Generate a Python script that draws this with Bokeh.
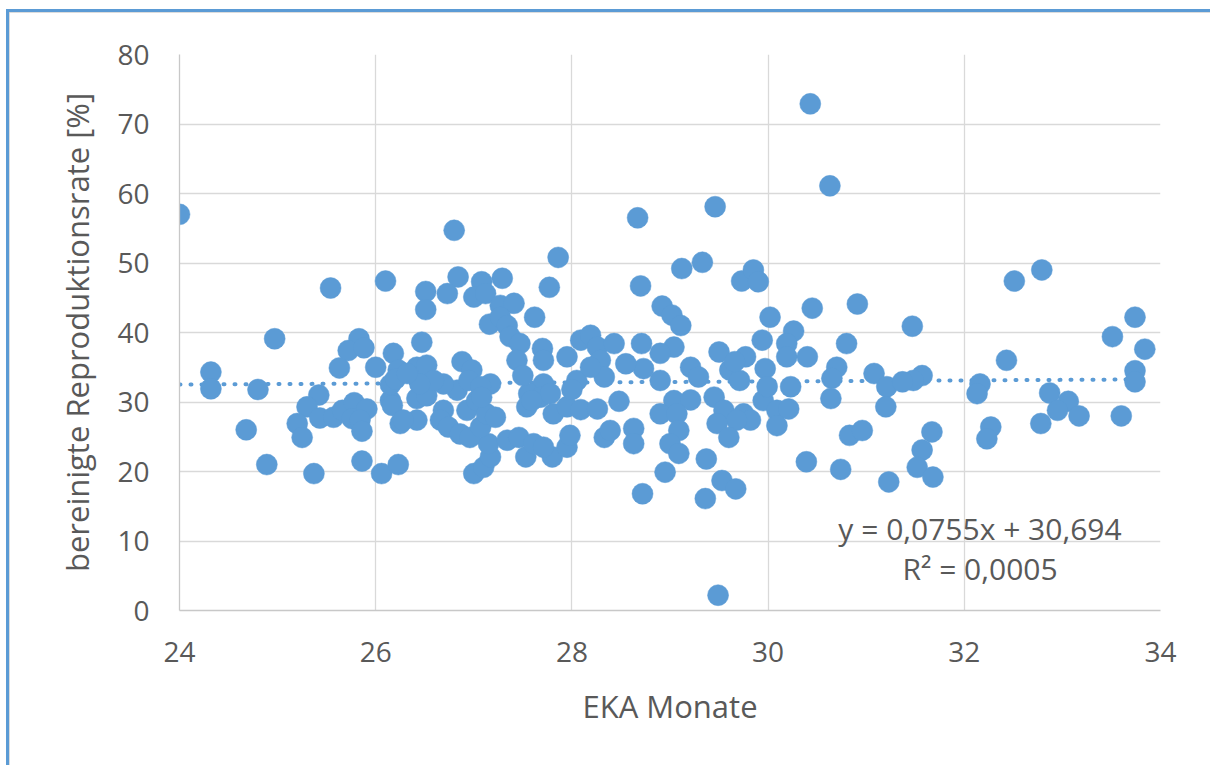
from bokeh.plotting import figure
from bokeh.models import Label, FixedTicker
from bokeh.embed import file_html
from bokeh.resources import INLINE

# ---- data ----
eka_months = [
    24.00, 25.54, 26.10, 24.97, 25.83, 25.72, 25.88, 25.63, 24.32, 24.32,
    24.80, 26.00, 26.18, 26.23, 26.15, 26.42, 26.42, 26.25, 26.42, 25.42,
    25.30, 25.20, 25.25, 25.43, 25.57, 25.66, 25.78, 25.91, 25.76, 25.84,
    25.86, 24.68, 24.89, 25.37, 25.86, 26.06, 26.23, 26.15, 26.20, 26.17,
    26.80, 27.86, 28.67, 28.70, 28.92, 26.84, 26.51, 26.51, 26.73, 27.08,
    27.29, 27.00, 27.12, 27.77, 27.27, 27.41, 27.16, 27.27, 27.34, 27.37,
    27.47, 27.44, 27.62, 26.47, 26.52, 26.88, 26.98, 27.17, 27.70, 27.71,
    27.95, 28.09, 28.19, 28.26, 28.29, 28.33, 28.43, 28.71, 28.73, 28.05,
    28.19, 27.71, 27.56, 27.54, 27.68, 27.78, 27.81, 27.95, 28.09, 28.26,
    28.48, 28.33, 28.39, 28.63, 28.63, 28.72, 27.00, 27.10, 27.17, 27.15,
    27.34, 27.53, 27.46, 27.61, 27.80, 27.71, 27.95, 27.98, 26.28, 26.52,
    26.69, 26.66, 26.74, 26.86, 26.96, 27.07, 26.93, 27.03, 27.13, 27.22,
    26.83, 26.69, 26.59, 26.45, 26.32, 26.95, 27.07, 27.08, 27.59, 30.63,
    30.43, 29.46, 29.12, 29.33, 29.73, 29.85, 29.90, 29.02, 29.11, 30.02,
    30.45, 30.91, 30.26, 30.19, 29.94, 30.80, 29.04, 28.90, 29.50, 29.77,
    30.19, 30.40, 30.70, 30.65, 31.08, 31.21, 31.20, 30.64, 30.23, 29.97,
    29.21, 29.29, 29.61, 29.71, 28.90, 29.04, 29.21, 28.90, 29.07, 29.45,
    29.55, 29.75, 29.82, 29.68, 29.48, 29.60, 29.95, 30.09, 30.21, 30.09,
    29.99, 29.09, 29.00, 29.09, 28.95, 29.37, 29.53, 29.67, 29.36, 30.39,
    30.74, 30.83, 30.96, 31.23, 29.49, 32.51, 32.79, 31.47, 32.43, 33.51,
    33.74, 33.84, 33.74, 33.74, 33.60, 32.16, 32.13, 32.87, 33.06, 32.95,
    33.17, 32.78, 32.27, 32.23, 31.57, 31.48, 31.37, 31.67, 31.57, 31.52,
    31.68, 29.66, 28.55, 27.50, 28.00,
]
repro_rate = [
    57.0, 46.4, 47.4, 39.1, 39.1, 37.4, 37.8, 34.9, 34.3, 31.9,
    31.8, 35.0, 37.0, 34.6, 30.2, 35.0, 30.5, 26.9, 27.4, 31.0,
    29.3, 26.9, 24.9, 27.7, 27.8, 28.8, 29.9, 29.0, 27.6, 27.4,
    25.8, 26.0, 21.0, 19.7, 21.5, 19.7, 21.0, 32.5, 33.3, 29.5,
    54.7, 50.8, 56.5, 46.7, 43.8, 48.0, 45.9, 43.3, 45.6, 47.3,
    47.8, 45.1, 45.6, 46.5, 43.9, 44.2, 41.2, 42.2, 41.0, 39.4,
    38.4, 36.0, 42.2, 38.6, 35.3, 35.8, 34.6, 32.6, 37.7, 36.0,
    36.5, 38.9, 39.6, 37.9, 36.0, 33.6, 38.4, 38.4, 34.8, 33.1,
    35.0, 32.6, 31.2, 29.3, 30.7, 31.2, 28.3, 29.3, 28.9, 29.0,
    30.1, 24.9, 25.9, 26.2, 24.0, 16.8, 19.7, 20.6, 22.1, 24.0,
    24.5, 22.1, 24.9, 24.0, 22.1, 23.5, 23.5, 25.2, 27.4, 30.9,
    28.8, 27.4, 26.4, 25.4, 24.9, 26.4, 28.8, 30.2, 28.3, 27.8,
    31.7, 32.6, 33.1, 32.6, 34.1, 33.1, 32.2, 30.7, 30.2, 61.1,
    72.9, 58.1, 49.2, 50.1, 47.4, 49.0, 47.3, 42.5, 41.0, 42.2,
    43.5, 44.1, 40.2, 38.4, 38.9, 38.4, 37.9, 37.0, 37.2, 36.5,
    36.5, 36.5, 35.0, 33.4, 34.1, 32.2, 29.3, 30.5, 32.2, 34.8,
    35.0, 33.6, 34.6, 33.1, 33.1, 30.2, 30.3, 28.3, 28.3, 30.7,
    28.8, 28.3, 27.4, 27.4, 26.9, 24.9, 30.2, 28.8, 29.0, 26.6,
    32.2, 25.9, 24.0, 22.6, 19.9, 21.8, 18.7, 17.5, 16.1, 21.4,
    20.3, 25.2, 25.9, 18.5, 2.2, 47.4, 49.0, 40.9, 36.0, 39.4,
    42.2, 37.6, 34.5, 32.9, 28.0, 32.6, 31.2, 31.3, 30.1, 28.8,
    28.0, 26.9, 26.4, 24.7, 33.8, 33.1, 32.9, 25.7, 23.1, 20.6,
    19.2, 35.8, 35.5, 33.8, 31.8,
]
x_ticks = [24, 26, 28, 30, 32, 34]
y_ticks = [0, 10, 20, 30, 40, 50, 60, 70, 80]
trend_slope = 0.0755
trend_intercept = 30.694
equation_text = "y = 0,0755x + 30,694"
r2_text = "R² = 0,0005"
x_title = "EKA Monate"
y_title = "bereinigte Reproduktionsrate [%]"

BLUE = "#5B9BD5"
TEXT = "#595959"
GRID = "#D9D9D9"
FONT = "Open Sans"

p = figure(
    frame_width=981, frame_height=556,
    min_border_left=170, min_border_right=50,
    min_border_top=42, min_border_bottom=155,
    x_range=(24, 34), y_range=(0, 80),
    output_backend="svg", toolbar_location=None,
    background_fill_color="white", border_fill_color="white",
)
p.styles = {
    "border-left": "3px solid " + BLUE,
    "border-top": "3px solid " + BLUE,
    "margin-left": "6px",
    "margin-top": "9px",
    "box-shadow": "inset 1px 1px 0 #D0D0D0",
}
p.outline_line_color = None

# grid
p.xgrid.ticker = FixedTicker(ticks=x_ticks)
p.ygrid.ticker = FixedTicker(ticks=y_ticks)
p.xgrid.grid_line_color = GRID
p.ygrid.grid_line_color = GRID
p.xgrid.grid_line_width = 1.3
p.ygrid.grid_line_width = 1.3

# axes
for ax in (p.xaxis[0], p.yaxis[0]):
    ax.major_tick_line_color = None
    ax.minor_tick_line_color = None
    ax.axis_line_color = "#C8C8C8"
    ax.axis_line_width = 1.3
    ax.major_label_text_font = FONT
    ax.major_label_text_font_size = "28px"
    ax.major_label_text_color = TEXT
    ax.axis_label_text_font = FONT
    ax.axis_label_text_font_size = "31px"
    ax.axis_label_text_color = TEXT
    ax.axis_label_text_font_style = "normal"
    ax.major_tick_out = 0
    ax.major_tick_in = 0

p.xaxis.ticker = FixedTicker(ticks=x_ticks)
p.yaxis.ticker = FixedTicker(ticks=y_ticks)
p.xaxis.axis_label = x_title
p.yaxis.axis_label = y_title
p.xaxis.major_label_standoff = 31
p.yaxis.major_label_standoff = 30
p.xaxis.axis_label_standoff = 20
p.yaxis.axis_label_standoff = 16

# trend line (from equation) over data range
x0, x1 = min(eka_months), max(eka_months)
p.line([x0, x1], [trend_slope * x0 + trend_intercept, trend_slope * x1 + trend_intercept],
       line_color=BLUE, line_width=4, line_dash="1 10", line_cap="round")

# points
p.scatter(eka_months, repro_rate, size=21, fill_color=BLUE, line_color=BLUE,
          line_width=0.5, marker="circle")

# equation labels
p.add_layout(Label(x=32.16, y=11.8, text=equation_text, text_align="center",
                   text_baseline="alphabetic", text_font=FONT,
                   text_font_size="30px", text_color=TEXT))
p.add_layout(Label(x=32.16, y=6.05, text=r2_text, text_align="center",
                   text_baseline="alphabetic", text_font=FONT,
                   text_font_size="30px", text_color=TEXT))

open("out.html", "w").write(file_html(p, INLINE))
